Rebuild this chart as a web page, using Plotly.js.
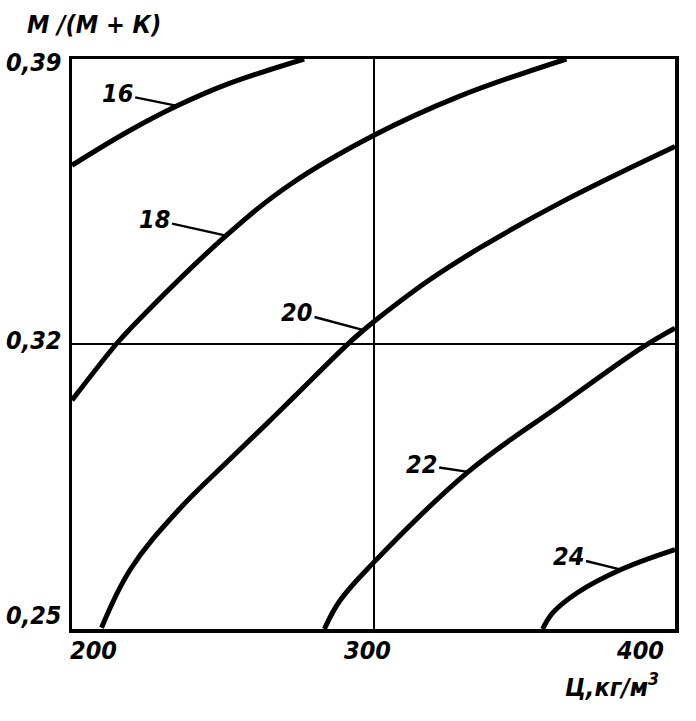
<!DOCTYPE html>
<html>
<head>
<meta charset="utf-8">
<script src="https://cdn.plot.ly/plotly-3.0.1.min.js"></script>
<style>html,body{margin:0;padding:0;background:#fff;}#chart{width:696px;height:721px;}</style>
</head>
<body>
<div id="chart"></div>
<script>
// Curve data: Ц (kg/m3) vs М/(М+К), one curve per strength value
const x16 = [200, 218.6, 234.9, 251.1, 277.0];
const y16 = [0.3639, 0.3722, 0.3785, 0.3837, 0.3900];
const x18 = [200, 214.7, 219.5, 251.1, 272.6, 300.0, 328.0, 364.0];
const y18 = [0.3062, 0.3200, 0.3239, 0.3466, 0.3593, 0.3712, 0.3807, 0.3900];
const x20 = [209.8, 219.5, 235.8, 252.1, 266.1, 273.9, 291.2, 296.7, 300.3, 317.9, 334.8, 362.5, 400];
const y20 = [0.2503, 0.2648, 0.2796, 0.2915, 0.3015, 0.3072, 0.3198, 0.3234, 0.3256, 0.3354, 0.3434, 0.3549, 0.3685];
const x22 = [283.7, 288.9, 300.0, 331.4, 361.8, 388.8, 400];
const y22 = [0.2500, 0.2570, 0.2663, 0.2886, 0.3049, 0.3190, 0.3239];
const x24 = [356.1, 359.5, 367.6, 382.1, 400];
const y24 = [0.2500, 0.2540, 0.2589, 0.2646, 0.2695];

const curveLabels = ["16", "18", "20", "22", "24"];
const labelIndex = [2, 3, 7, 3, 3];

const xTickVals = [200, 300, 400];
const xTickText = ["200", "300", "400"];
const yTickVals = [0.25, 0.32, 0.39];
const yTickText = ["0,25", "0,32", "0,39"];
const xTitle = "Ц,кг/м<sup>3</sup>";
const yTitle = "М /(М + К)";

const series = [[x16, y16], [x18, y18], [x20, y20], [x22, y22], [x24, y24]];
const font = {family: "DejaVu Sans Condensed, DejaVu Sans", size: 25, color: "#000", weight: "bold", style: "italic"};

const traces = series.map(([xs, ys], i) => ({
  x: xs, y: ys, type: "scatter", mode: "lines", name: curveLabels[i],
  line: {color: "#000", width: 5, shape: "spline", smoothing: 1.1},
  hoverinfo: "skip"
}));

// label leader offsets (pixels, text centre relative to curve point)
const offsets = [[-60, -12], [-72, -16], [-67, -18], [-47, -7], [-53, -13]];
const annotations = [];
series.forEach(([xs, ys], i) => {
  annotations.push({
    x: xs[labelIndex[i]], y: ys[labelIndex[i]], xref: "x", yref: "y",
    text: curveLabels[i], showarrow: true, arrowhead: 0, arrowwidth: 2.4, arrowcolor: "#000",
    ax: offsets[i][0], ay: offsets[i][1], standoff: 0, startstandoff: 1, font: font
  });
});
const xAnch = ["left", "center", "right"];
const xShift = [-4, -6, -9];
xTickVals.forEach((v, i) => annotations.push({
  x: v, y: 0, xref: "x", yref: "paper", yanchor: "top", xanchor: xAnch[i], xshift: xShift[i], yshift: -5,
  text: xTickText[i], showarrow: false, font: font
}));
const yAnch = ["bottom", "middle", "middle"];
const yShift = [-3, 4, -3];
yTickVals.forEach((v, i) => annotations.push({
  x: 0, y: v, xref: "paper", yref: "y", xanchor: "right", yanchor: yAnch[i], xshift: -8, yshift: yShift[i],
  text: yTickText[i], showarrow: false, font: font
}));
annotations.push({x: 1, y: 0, xref: "paper", yref: "paper", xanchor: "right", yanchor: "top",
  xshift: -14, yshift: -38, text: xTitle, showarrow: false, font: font});
annotations.push({x: 0, y: 1, xref: "paper", yref: "paper", xanchor: "center", yanchor: "bottom",
  xshift: 22, yshift: 18, text: yTitle, showarrow: false, font: font});

const layout = {
  width: 696, height: 721,
  margin: {l: 72, r: 21, t: 59, b: 92},
  paper_bgcolor: "#fff", plot_bgcolor: "#fff",
  showlegend: false,
  xaxis: {range: [200, 400], tickvals: [300], showticklabels: false, ticks: "",
    showgrid: true, gridcolor: "#000", gridwidth: 2, zeroline: false,
    showline: true, mirror: true, linecolor: "#000", linewidth: 3.5},
  yaxis: {range: [0.25, 0.39], tickvals: [0.32], showticklabels: false, ticks: "",
    showgrid: true, gridcolor: "#000", gridwidth: 2, zeroline: false,
    showline: true, mirror: true, linecolor: "#000", linewidth: 3.5},
  annotations: annotations
};

Plotly.newPlot("chart", traces, layout, {staticPlot: true, displayModeBar: false});
</script>
</body>
</html>
